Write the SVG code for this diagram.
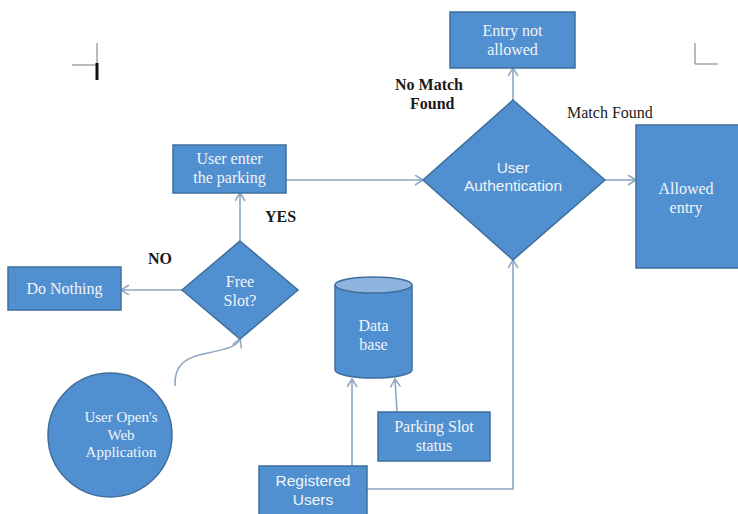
<svg xmlns="http://www.w3.org/2000/svg" width="738" height="514" viewBox="0 0 738 514">
<style>
.node{fill:#5190D0;stroke:#3F6E9C;stroke-width:1.5}
.top{fill:#8FB4DE;stroke:#3F6E9C;stroke-width:1.5}
.t{font-family:"Liberation Serif",serif;font-size:16px;fill:#F2F4F8;text-anchor:middle}
.e{font-size:15px}
.s{font-family:"Liberation Sans",sans-serif;font-size:15.5px;fill:#F2F4F8;text-anchor:middle}
.lbl{font-family:"Liberation Serif",serif;font-size:16px;fill:#1a1a1a}
.b{font-weight:bold}
.c{fill:none;stroke:#8DA7C2;stroke-width:1.6}
.crop{stroke:#777;stroke-width:1;fill:none}
</style>
<defs>
<marker id="ah" markerWidth="12" markerHeight="12" refX="9" refY="5" orient="auto" markerUnits="userSpaceOnUse">
<path d="M1,0 L9,5 L1,10" fill="none" stroke="#8DA7C2" stroke-width="1.5"/>
</marker>
</defs>
<rect width="738" height="514" fill="#ffffff"/>
<g id="cropmarks">
<path class="crop" d="M97,43 V63 M72,65 H97 M695,43 V64 H718"/>
<path d="M97,63 V80" stroke="#111" stroke-width="3"/>
</g>
<g id="connectors">
<path class="c" marker-end="url(#ah)" d="M286,180 H423"/>
<path class="c" marker-end="url(#ah)" d="M513,100 V68"/>
<path class="c" marker-end="url(#ah)" d="M605,180 H636"/>
<path class="c" marker-end="url(#ah)" d="M240,241 V193"/>
<path class="c" marker-end="url(#ah)" d="M182,290 H121"/>
<path class="c" marker-end="url(#ah)" d="M175,386 C174,364 186,357 208,353 C228,349 237,346 240,339"/>
<path class="c" marker-end="url(#ah)" d="M397,412 L395,379"/>
<path class="c" marker-end="url(#ah)" d="M352,466 V379"/>
<path class="c" marker-end="url(#ah)" d="M367,489 H513 V260"/>
</g>
<g id="user-enter">
<rect class="node" x="173" y="145" width="113" height="48"/>
<text class="t" x="229.5" y="164">User enter</text>
<text class="t" x="229.5" y="182.5">the parking</text>
</g>
<g id="user-auth">
<polygon class="node" points="513,100 605,180 513,260 423,180"/>
<text class="s" x="513" y="173">User</text>
<text class="s" x="513" y="191">Authentication</text>
</g>
<g id="entry-not-allowed">
<rect class="node" x="450" y="12" width="125" height="56"/>
<text class="t" x="512.5" y="36">Entry not</text>
<text class="t" x="512.5" y="54.5">allowed</text>
</g>
<g id="allowed-entry">
<rect class="node" x="636" y="125" width="104" height="143"/>
<text class="t" x="686" y="194">Allowed</text>
<text class="t" x="686" y="212.5">entry</text>
</g>
<g id="free-slot">
<polygon class="node" points="240,241 298,290 240,339 182,290"/>
<text class="t" x="240" y="287">Free</text>
<text class="t" x="240" y="305.5">Slot?</text>
</g>
<g id="do-nothing">
<rect class="node" x="8" y="267" width="113" height="43"/>
<text class="t" x="64.5" y="294">Do Nothing</text>
</g>
<g id="web-app">
<ellipse class="node" cx="110" cy="435" rx="62" ry="62"/>
<text class="t e" x="121" y="422">User Open's</text>
<text class="t e" x="121" y="439.5">Web</text>
<text class="t e" x="121" y="457">Application</text>
</g>
<g id="database">
<path class="node" d="M335,285 V370 A38.5,8 0 0 0 412,370 V285"/>
<ellipse class="top" cx="373.5" cy="285" rx="38.5" ry="8"/>
<text class="t" x="373.5" y="331">Data</text>
<text class="t" x="373.5" y="349.5">base</text>
</g>
<g id="parking-slot-status">
<rect class="node" x="378" y="412" width="112" height="49"/>
<text class="t" x="434" y="432">Parking Slot</text>
<text class="t" x="434" y="450.5">status</text>
</g>
<g id="registered-users">
<rect class="node" x="259" y="466" width="108" height="52"/>
<text class="s" x="313" y="486">Registered</text>
<text class="s" x="313" y="505">Users</text>
</g>
<g id="labels">
<text class="lbl b" x="395" y="90">No Match</text>
<text class="lbl b" x="410" y="108.5">Found</text>
<text class="lbl" x="567" y="118">Match Found</text>
<text class="lbl b" x="265" y="222">YES</text>
<text class="lbl b" x="148" y="264">NO</text>
</g>
</svg>
